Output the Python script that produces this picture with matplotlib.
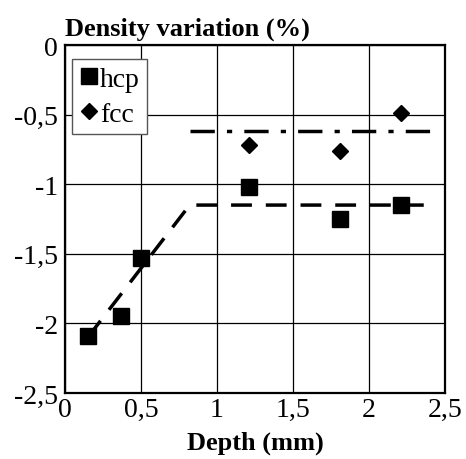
import matplotlib
matplotlib.use("Agg")
import matplotlib.pyplot as plt

hcp_x = [0.15, 0.37, 0.50, 1.21, 1.81, 2.21]
hcp_y = [-2.09, -1.95, -1.53, -1.02, -1.25, -1.15]
fcc_x = [1.21, 1.81, 2.21]
fcc_y = [-0.72, -0.76, -0.49]
fit_hcp_x = [0.15, 0.82, 2.36]
fit_hcp_y = [-2.10, -1.15, -1.15]
fit_fcc_x = [0.82, 2.41]
fit_fcc_y = [-0.62, -0.62]
xticks = [0, 0.5, 1, 1.5, 2, 2.5]
xtick_labels = ["0", "0,5", "1", "1,5", "2", "2,5"]
yticks = [0, -0.5, -1, -1.5, -2, -2.5]
ytick_labels = ["0", "-0,5", "-1", "-1,5", "-2", "-2,5"]

plt.rcParams['font.family'] = ['Liberation Serif', 'DejaVu Serif']
fig = plt.figure(figsize=(4.66, 4.6), dpi=100)
ax = fig.add_axes([0.1395, 0.1435, 0.8155, 0.7565])

ax.plot(fit_hcp_x, fit_hcp_y, color='black', lw=2.5, dashes=(6, 4), zorder=2)
ax.plot(fit_fcc_x, fit_fcc_y, color='black', lw=2.5, dashes=(7, 3.5, 1.5, 3.5), zorder=2)
ax.plot(hcp_x, hcp_y, 's', color='black', ms=11, ls='none', label='hcp', zorder=3)
ax.plot(fcc_x, fcc_y, 'D', color='black', ms=8, ls='none', label='fcc', zorder=3)

ax.set_xlim(0, 2.5)
ax.set_ylim(-2.5, 0)
ax.set_xticks(xticks)
ax.set_xticklabels(xtick_labels)
ax.set_yticks(yticks)
ax.set_yticklabels(ytick_labels)
ax.tick_params(axis='y', labelsize=20, length=0, pad=5)
ax.tick_params(axis='x', labelsize=20, length=0, pad=3)
ax.grid(True, color='black', lw=0.9)
for s in ax.spines.values():
    s.set_linewidth(1.6)
ax.set_xlabel('Depth (mm)', fontsize=19, fontweight='bold', labelpad=6)
fig.text(0.1395, 0.91, 'Density variation (%)', fontsize=19, fontweight='bold', ha='left', va='bottom')

leg = ax.legend(loc='upper left', bbox_to_anchor=(0.005, 0.975), fontsize=20, frameon=True,
                fancybox=False, handletextpad=0.05, handlelength=0.7, borderpad=0.25,
                labelspacing=0.35, borderaxespad=0.2)
leg.get_frame().set_edgecolor('#555555')
leg.get_frame().set_linewidth(1.0)
leg.get_frame().set_alpha(1)

fig.savefig('out.png', dpi=100)
